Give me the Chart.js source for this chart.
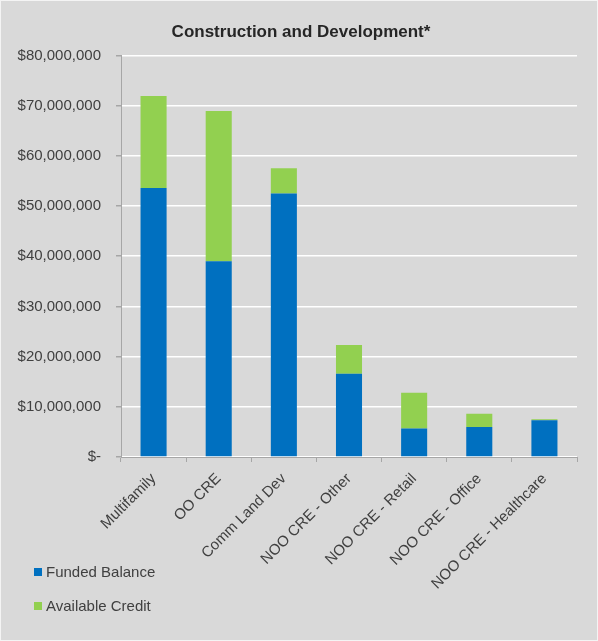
<!DOCTYPE html>
<html>
<head>
<meta charset="utf-8">
<title>Construction and Development</title>
<script src="https://cdn.jsdelivr.net/npm/chart.js@4/dist/chart.umd.min.js"></script>
<style>
  html, body { margin: 0; padding: 0; background: #f4f4f4; }
  #wrap { position: absolute; left: 1px; top: 1px; width: 596px; height: 639px; background: #d9d9d9; }
</style>
</head>
<body>
<div id="wrap"><canvas id="myChart"></canvas></div>
<script>
// Loan categories and balances (dollars)
const categories = ['Multifamily', 'OO CRE', 'Comm Land Dev', 'NOO CRE - Other', 'NOO CRE - Retail', 'NOO CRE - Office', 'NOO CRE - Healthcare'];
const fundedBalance = [53600000, 39000000, 52500000, 16600000, 5700000, 6000000, 7300000];
const availableCredit = [18300000, 29900000, 5000000, 5700000, 7100000, 2600000, 200000];

const FONT = '"Liberation Sans", Arial, sans-serif';
const TEXT = '#404040';
const AXIS = '#a6a6a6';

Chart.defaults.font.family = FONT;
Chart.defaults.color = TEXT;

// Stacked legend in the lower left corner
const sideLegend = {
    id: 'sideLegend',
    afterLayout(chart) {
        // let the y tick labels run into the left padding without clipping
        chart.scales.y.left = 0;
    },
    afterDraw(chart) {
        const ctx = chart.ctx;
        ctx.save();
        ctx.font = '15px ' + FONT;
        ctx.textBaseline = 'middle';
        chart.data.datasets.forEach((ds, i) => {
            let y = 571 + i * 34;
            ctx.fillStyle = ds.backgroundColor;
            ctx.fillRect(33, y - 4, 8, 8);
            ctx.fillStyle = TEXT;
            ctx.fillText(ds.label, 45, y + 1);
        });
        ctx.restore();
    }
};

const ctx = document.getElementById('myChart');

new Chart(ctx, {
    type: 'bar',
    data: {
        labels: categories,
        datasets: [{
            label: 'Funded Balance',
            data: fundedBalance,
            backgroundColor: '#0070c0',
            barPercentage: 0.5,
            categoryPercentage: 0.8
        }, {
            label: 'Available Credit',
            data: availableCredit,
            backgroundColor: '#92d050',
            barPercentage: 0.5,
            categoryPercentage: 0.8
        }]
    },
    options: {
        responsive: true,
        maintainAspectRatio: false,
        animation: false,
        // left padding keeps the title centred over the whole panel
        layout: { padding: { left: 24, right: 20, top: 0, bottom: 0 } },
        plugins: {
            legend: { display: false },
            tooltip: { enabled: false },
            title: {
                display: true,
                text: 'Construction and Development*',
                color: '#262626',
                font: { size: 17, weight: 'bold' },
                padding: { top: 21, bottom: 13 }
            }
        },
        scales: {
            x: {
                stacked: true,
                afterFit: (s) => { s.height = 183; },
                grid: {
                    offset: true,
                    drawOnChartArea: false,
                    drawTicks: true,
                    tickLength: 5,
                    tickColor: AXIS
                },
                border: { color: AXIS },
                ticks: {
                    minRotation: 45,
                    maxRotation: 45,
                    padding: 8,
                    color: TEXT,
                    font: { size: 15 }
                }
            },
            y: {
                stacked: true,
                min: 0,
                max: 80000000,
                afterFit: (s) => { s.width = 96; },
                grid: {
                    color: '#ffffff',
                    lineWidth: 1.5,
                    tickLength: 5,
                    tickColor: AXIS
                },
                border: { color: AXIS },
                ticks: {
                    stepSize: 10000000,
                    padding: 15,
                    color: TEXT,
                    font: { size: 15 },
                    callback: (v) => v === 0 ? '$-' : '$' + v.toLocaleString('en-US')
                }
            }
        }
    },
    plugins: [sideLegend]
});
</script>
</body>
</html>
